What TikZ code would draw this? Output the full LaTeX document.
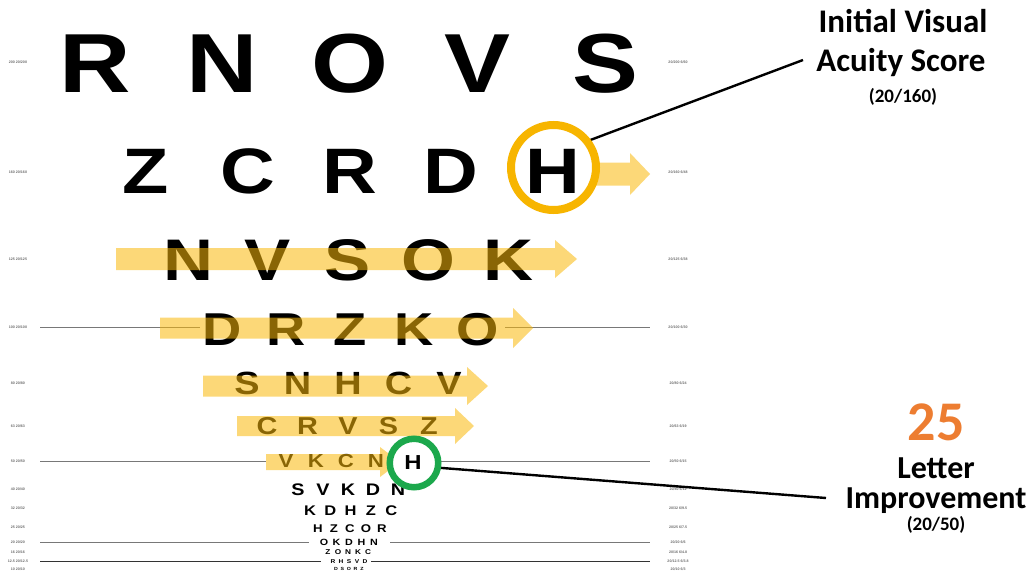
\documentclass[tikz,border=0pt]{standalone}
\usepackage{fontspec}
\usepackage{graphicx}
\newfontfamily\sloanfont{Liberation Sans}
\newfontfamily\calfont{Carlito}
\definecolor{arrowy}{RGB}{250,185,10}
\definecolor{ringy}{RGB}{247,181,0}
\definecolor{ringg}{RGB}{28,168,76}
\definecolor{orng}{RGB}{237,125,49}
\definecolor{lblg}{RGB}{110,110,110}
\definecolor{gline}{RGB}{120,120,120}
\newcommand\chartrow[6]{%
  \pgfmathsetmacro\fs{#3/0.716}%
  \foreach \L [count=\i] in {#6} {%
    \node[letter, font=\sloanfont\bfseries\fontsize{\fs}{\fs}\selectfont]
      (#1-\i) at ({#4+(\i-1)*#5},{#2+#3/2}) {\scalebox{1.18}[1]{\L}};
  }}
\newcommand\yarrow[6]{%
  \fill[arrowy, fill opacity=0.55] (#1,{#4-#5/2}) -- (#2,{#4-#5/2}) -- (#2,{#4-#6/2})
    -- (#3,#4) -- (#2,{#4+#6/2}) -- (#2,{#4+#5/2}) -- (#1,{#4+#5/2}) -- cycle;}
\tikzset{
  letter/.style={anchor=base, inner sep=0pt, text=black},
  lbl/.style={inner sep=0pt, text=lblg, font=\sloanfont\bfseries\fontsize{3.6}{3.6}\selectfont},
  rule/.style={draw=gline, line width=0.9pt},
  callline/.style={draw=black, line width=2.4pt},
  ring/.style={circle, fill=white, inner sep=0pt},
  callt/.style={anchor=base, inner sep=0pt, text=black}
}
\begin{document}
\begin{tikzpicture}[x=1pt,y=-1pt]
\useasboundingbox (0,0) rectangle (1036,581);
\fill[white] (0,0) rectangle (1036,581);
% margin labels
\foreach \yy/\ft/\mt [count=\k] in {62/200/60, 172/160/48, 259/125/38, 327/100/30, 383/80/24,
   426/63/19, 461/50/15, 489/40/12, 508/32/9.5, 527/25/7.5, 542/20/6, 552/16/4.8, 561/12.5/3.8, 569/10/3} {
  \node[lbl] (ll\k) at (18,\yy) {\ft\ 20/\ft};
  \node[lbl] (rl\k) at (678,\yy) {20/\ft\ 6/\mt};
}
% rule lines
\draw[rule] (40,327) -- (200,327);
\draw[rule] (505,327) -- (650,327);
\draw[rule] (40,461) -- (266,461);
\draw[rule] (420,461) -- (650,461);
\draw[rule] (40,542.5) -- (309,542.5);
\draw[rule] (390,542.5) -- (650,542.5);
\draw[rule, draw=black!80] (40,561) -- (321,561);
\draw[rule, draw=black!80] (371,561) -- (650,561);
% chart rows
\chartrow{r1}{62}{60}{95}{127.5}{R,N,O,V,S}
\chartrow{r2}{170}{46}{146}{101.75}{Z,C,R,D}
\chartrow{r3}{259}{42}{188}{80}{N,V,S,O,K}
\chartrow{r4}{329}{33}{222}{64}{D,R,Z,K,O}
\chartrow{r5}{383}{23}{247}{50.5}{S,N,H,C,V}
\chartrow{r6}{426}{17.5}{267}{40.5}{C,R,V,S,Z}
\chartrow{r7}{461}{13.5}{286}{30}{V,K,C,N}
\chartrow{r8}{489}{12}{298}{25}{S,V,K,D,N}
\chartrow{r9}{510}{10}{310}{20.3}{K,D,H,Z,C}
\chartrow{r10}{528}{8}{318}{16}{H,Z,C,O,R}
\chartrow{r11}{542.5}{6.5}{324}{12.5}{O,K,D,H,N}
\chartrow{r12}{552}{5}{328}{10}{Z,O,N,K,C}
\chartrow{r13}{561}{4}{333}{8}{R,H,S,V,D}
\chartrow{r14}{568.5}{3.2}{336}{6.5}{D,S,O,R,Z}
% progress arrows
\yarrow{590}{630}{650}{174}{23}{42}
\yarrow{116}{555}{577}{259}{22}{38}
\yarrow{160}{513}{533}{328}{21}{40}
\yarrow{203}{467}{488}{386}{21}{38}
\yarrow{237}{455}{474}{426}{20}{36}
\yarrow{266}{380}{400}{462}{16}{30}
% callout anchors and lines
\node[ring, minimum size=85pt] (ycirc) at (553.5,167.5) {};
\node[ring, minimum size=48.5pt] (gcirc) at (414,463) {};
\coordinate (ca) at (803,60);
\coordinate (cb) at (826,498);
\draw[callline] (ycirc.38) -- (ca);
\draw[callline] (gcirc.-11) -- (cb);
\draw[ringy, line width=8pt] (ycirc.center) circle[radius=42.5];
\draw[ringg, line width=6.5pt] (gcirc.center) circle[radius=24.25];
\pgfmathsetmacro\fsA{46/0.716}
\node[letter, font=\sloanfont\bfseries\fontsize{\fsA}{\fsA}\selectfont] (r2-5) at (553,193) {\scalebox{1.18}[1]{H}};
\pgfmathsetmacro\fsB{14.5/0.716}
\node[letter, font=\sloanfont\bfseries\fontsize{\fsB}{\fsB}\selectfont] (r7-5) at (413,469.5) {\scalebox{1.18}[1]{H}};
% callout texts
\node[callt, font=\calfont\bfseries\fontsize{33}{33}\selectfont] (t1) at (903,32) {Initial Visual};
\node[callt, font=\calfont\bfseries\fontsize{33}{33}\selectfont] (t2) at (901,71) {Acuity Score};
\node[callt, font=\calfont\bfseries\fontsize{19}{19}\selectfont] (t3) at (903,102) {(20/160)};
\node[callt, text=orng, font=\calfont\bfseries\fontsize{56}{56}\selectfont] (t4) at (936,440) {25};
\node[callt, font=\calfont\bfseries\fontsize{32}{32}\selectfont] (t5) at (936,478) {Letter};
\node[callt, font=\calfont\bfseries\fontsize{32}{32}\selectfont] (t6) at (936,508) {Improvement};
\node[callt, font=\calfont\bfseries\fontsize{19}{19}\selectfont] (t7) at (936,530) {(20/50)};
\end{tikzpicture}
\end{document}
